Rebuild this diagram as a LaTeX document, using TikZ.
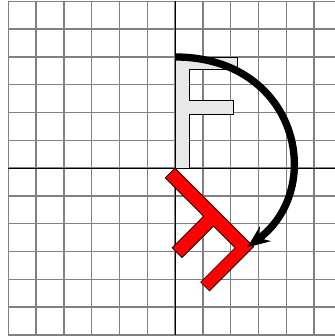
\documentclass[tikz,border=0pt]{standalone}
\usetikzlibrary{arrows.meta}

% outline of the letter F, stem foot at the origin
\newcommand{\Fshape}{(0,0) -- (0,4) -- (2.25,4) -- (2.25,3.55) -- (0.5,3.55) -- (0.5,2.45) -- (2.1,2.45) -- (2.1,1.95) -- (0.5,1.95) -- (0.5,0) -- cycle}

\begin{document}
\begin{tikzpicture}[
    gridline/.style={draw=gray, line width=1.4pt},
    axisline/.style={draw=black, line width=0.7pt},
    letter/.style={draw=black, line width=0.7pt, line join=miter},
    turn/.style={line width=7.5pt, -{Stealth[length=8mm, width=6.5mm, inset=2.5mm]}}
]
\useasboundingbox (-6.3,-6.04) rectangle (5.72,6.05);

\draw[gridline] (-6,-6) grid (6,6);
\draw[axisline] (-6,0) -- (6,0);
\draw[axisline] (0,-6) -- (0,6);

% original and rotated letter
\filldraw[letter, fill=gray!18] \Fshape;
\filldraw[letter, fill=red, rotate=-135] \Fshape;

\draw[turn] (0,4) .. controls (4.4,4) and (5.45,-0.7) .. (2.6,-2.85);

\end{tikzpicture}
\end{document}
